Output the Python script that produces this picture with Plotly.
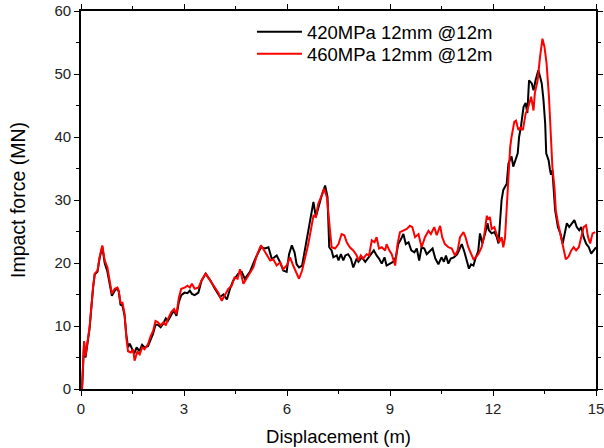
import plotly.graph_objects as go

# 420MPa 12mm @12m (black)
x_420 = [0.03, 0.06, 0.09, 0.13, 0.18, 0.25, 0.35, 0.40, 0.48, 0.54, 0.62, 0.69, 0.77, 0.83, 0.90, 0.98,
         1.06, 1.10, 1.15, 1.21, 1.27, 1.32, 1.37, 1.42, 1.48, 1.55, 1.62, 1.70, 1.78, 1.85, 1.95, 2.03,
         2.10, 2.17, 2.24, 2.32, 2.40, 2.47, 2.53, 2.63, 2.71, 2.78, 2.85, 2.92, 3.02, 3.10, 3.17, 3.23,
         3.31, 3.42, 3.51, 3.63, 3.77, 3.90, 4.05, 4.15, 4.25, 4.34, 4.43, 4.58, 4.68, 4.77, 4.92, 5.07,
         5.24, 5.36, 5.46, 5.56, 5.70, 5.80, 5.89, 5.99, 6.06, 6.14, 6.22, 6.28, 6.35, 6.44, 6.52, 6.62,
         6.72, 6.77, 6.84, 6.91, 7.01, 7.11, 7.18, 7.23, 7.30, 7.35, 7.45, 7.50, 7.57, 7.64, 7.70, 7.78,
         7.86, 7.93, 8.03, 8.08, 8.18, 8.28, 8.37, 8.47, 8.53, 8.61, 8.68, 8.76, 8.84, 8.90, 9.00, 9.10,
         9.17, 9.24, 9.32, 9.39, 9.46, 9.54, 9.62, 9.71, 9.78, 9.85, 9.92, 10.00, 10.07, 10.17, 10.24,
         10.32, 10.41, 10.50, 10.57, 10.63, 10.70, 10.77, 10.86, 10.96, 11.09, 11.17, 11.23, 11.30, 11.36,
         11.43, 11.50, 11.57, 11.62, 11.69, 11.77, 11.84, 11.88, 11.96, 12.04, 12.11, 12.16, 12.20, 12.25,
         12.30, 12.35, 12.40, 12.45, 12.54, 12.59, 12.66, 12.72, 12.76, 12.81, 12.89, 12.95, 13.00, 13.05,
         13.13, 13.18, 13.24, 13.32, 13.37, 13.42, 13.47, 13.52, 13.55, 13.62, 13.66, 13.69, 13.73, 13.76,
         13.81, 13.89, 13.96, 14.03, 14.09, 14.15, 14.22, 14.30, 14.37, 14.44, 14.51, 14.57, 14.64, 14.71,
         14.79, 14.86, 14.93, 15.00]
y_420 = [0.0, 3.0, 7.4, 5.0, 7.0, 9.6, 16.0, 18.2, 18.6, 20.7, 22.6, 20.0, 18.6, 16.6, 14.8, 15.6,
         16.0, 15.4, 13.4, 13.2, 11.6, 8.6, 6.6, 7.2, 6.4, 5.6, 6.6, 6.0, 7.0, 6.6, 6.8, 7.9,
         8.8, 10.2, 10.2, 9.8, 10.4, 11.2, 10.8, 11.8, 12.4, 11.6, 13.8, 14.9, 15.3, 15.2, 15.6, 15.1,
         14.9, 15.3, 17.2, 18.3, 17.2, 15.9, 14.6, 15.0, 14.2, 15.9, 17.2, 18.3, 18.6, 17.5, 18.6, 20.6,
         22.5, 22.3, 22.5, 20.6, 21.2, 20.1, 18.8, 18.6, 21.4, 22.8, 21.7, 19.8, 19.3, 19.6, 22.0, 25.1,
         27.8, 29.7, 27.3, 28.9, 30.7, 32.3, 30.5, 22.5, 22.0, 20.9, 21.2, 20.4, 21.4, 20.4, 21.2, 21.4,
         20.7, 19.3, 20.7, 20.2, 20.9, 20.2, 20.9, 21.7, 22.0, 21.2, 20.7, 19.9, 20.9, 19.6, 19.9, 20.2,
         20.9, 23.0, 23.8, 24.6, 23.0, 23.3, 22.0, 21.7, 22.3, 20.4, 22.5, 22.3, 21.4, 22.0, 22.3,
         20.7, 19.8, 20.9, 20.2, 21.2, 19.9, 20.7, 20.9, 21.4, 23.0, 21.7, 20.4, 19.1, 19.8,
         19.6, 20.9, 21.9, 24.7, 23.1, 24.7, 26.3, 25.2, 24.7, 24.9, 24.1, 23.1, 26.3, 30.0,
         31.6, 32.1, 32.6, 35.8, 36.9, 35.3, 36.3, 37.4, 40.0, 41.5, 44.8, 45.4, 43.8, 49.0,
         48.5, 47.4, 49.0, 50.6, 49.6, 48.5, 45.9, 42.1, 37.4, 36.3, 34.8, 34.0, 34.7, 31.6,
         28.4, 25.7, 24.7, 23.1, 24.7, 26.3, 25.7, 26.3, 26.8, 25.7, 25.2, 25.7, 24.1, 23.1,
         22.5, 21.5, 22.0, 22.5]

# 460MPa 12mm @12m (red)
x_460 = [0.03, 0.06, 0.09, 0.13, 0.18, 0.25, 0.35, 0.40, 0.48, 0.54, 0.62, 0.69, 0.77, 0.83, 0.90, 0.98,
         1.06, 1.10, 1.15, 1.21, 1.27, 1.32, 1.37, 1.45, 1.52, 1.56, 1.64, 1.71, 1.78, 1.85, 1.95, 2.03,
         2.10, 2.17, 2.24, 2.32, 2.40, 2.47, 2.53, 2.63, 2.71, 2.78, 2.85, 2.92, 3.02, 3.10, 3.17, 3.23,
         3.31, 3.42, 3.51, 3.63, 3.71, 3.81, 3.90, 4.00, 4.10, 4.20, 4.29, 4.39, 4.47, 4.56, 4.63, 4.73,
         4.82, 4.92, 5.02, 5.12, 5.24, 5.30, 5.41, 5.51, 5.60, 5.70, 5.80, 5.89, 5.99, 6.09, 6.18, 6.28,
         6.35, 6.44, 6.52, 6.62, 6.70, 6.77, 6.84, 6.91, 7.01, 7.08, 7.16, 7.20, 7.25, 7.30, 7.40, 7.50,
         7.59, 7.67, 7.74, 7.83, 7.93, 8.03, 8.08, 8.15, 8.22, 8.32, 8.39, 8.47, 8.55, 8.61, 8.68, 8.76,
         8.86, 8.90, 8.98, 9.05, 9.15, 9.22, 9.29, 9.38, 9.49, 9.58, 9.65, 9.73, 9.83, 9.92, 10.02, 10.12,
         10.19, 10.29, 10.36, 10.46, 10.52, 10.60, 10.70, 10.80, 10.89, 10.97, 11.04, 11.14, 11.20, 11.28,
         11.36, 11.43, 11.50, 11.57, 11.67, 11.75, 11.82, 11.86, 11.91, 11.96, 12.04, 12.11, 12.18, 12.25,
         12.30, 12.35, 12.40, 12.45, 12.50, 12.54, 12.62, 12.67, 12.74, 12.80, 12.87, 12.95, 13.03, 13.11,
         13.18, 13.22, 13.30, 13.37, 13.44, 13.50, 13.56, 13.63, 13.69, 13.73, 13.79, 13.83, 13.90, 13.98,
         14.05, 14.12, 14.20, 14.28, 14.35, 14.42, 14.50, 14.57, 14.64, 14.71, 14.77, 14.83, 14.90, 14.98]
y_460 = [0.0, 3.0, 7.6, 5.2, 7.2, 9.8, 16.1, 18.3, 18.8, 20.9, 22.8, 20.4, 19.3, 17.2, 15.1, 15.9,
         16.1, 15.6, 13.7, 13.7, 11.9, 8.2, 6.0, 5.8, 6.3, 4.5, 5.9, 5.5, 6.6, 6.3, 7.1, 8.4,
         9.2, 10.8, 10.6, 10.1, 10.6, 10.1, 11.1, 12.2, 12.7, 11.9, 14.5, 15.9, 16.1, 16.4, 16.1, 16.7,
         15.9, 16.1, 17.2, 18.3, 17.7, 16.9, 16.1, 15.3, 14.0, 15.0, 15.9, 16.4, 17.7, 17.5, 19.0, 16.7,
         17.5, 18.3, 19.3, 21.2, 22.8, 22.3, 21.4, 20.4, 20.6, 19.6, 20.1, 19.0, 19.6, 20.9, 19.6, 18.3,
         17.5, 18.8, 20.6, 23.0, 25.4, 27.5, 27.3, 29.4, 30.7, 31.8, 30.5, 28.3, 24.6, 22.5, 22.3, 23.0,
         24.6, 24.4, 23.3, 22.5, 22.0, 21.2, 20.4, 21.2, 20.7, 21.4, 21.2, 23.6, 23.3, 24.1, 22.3, 22.5,
         22.0, 23.0, 22.0, 21.4, 19.6, 23.0, 24.9, 25.1, 25.4, 25.9, 25.7, 24.1, 24.6, 22.5, 24.1, 25.1,
         24.6, 25.7, 24.4, 25.9, 24.1, 23.0, 22.5, 22.3, 21.2, 22.0, 24.1, 24.9, 24.1, 22.5,
         21.4, 20.6, 20.9, 21.4, 22.5, 24.6, 27.5, 26.9, 27.3, 25.4, 25.7, 24.6, 23.3, 24.1,
         22.5, 24.0, 29.4, 34.7, 38.4, 40.0, 42.4, 42.6, 41.1, 41.5, 41.1, 43.7, 44.8, 46.4,
         44.2, 47.0, 49.0, 52.7, 55.6, 54.3, 51.7, 46.4, 40.5, 35.2, 32.0, 28.3, 26.2, 24.1,
         22.0, 20.6, 21.0, 22.0, 22.5, 22.0, 22.5, 24.1, 25.7, 26.0, 24.1, 23.1, 24.7, 24.9]

series_names = ["420MPa 12mm @12m", "460MPa 12mm @12m"]
x_ticks = [0, 3, 6, 9, 12, 15]
y_ticks = [0, 10, 20, 30, 40, 50, 60]

font_family = "Liberation Sans, Arial, sans-serif"

fig = go.Figure()
fig.add_trace(go.Scatter(x=x_420, y=y_420, mode="lines", name=series_names[0],
                         line=dict(color="#000000", width=2), legend="legend"))
fig.add_trace(go.Scatter(x=x_460, y=y_460, mode="lines", name=series_names[1],
                         line=dict(color="#FF0000", width=2), legend="legend2"))

axis_common = dict(
    showline=True, linecolor="#000000", linewidth=1.6, mirror="allticks",
    ticks="outside", ticklen=5, tickwidth=1.4, tickcolor="#000000",
    showgrid=False, zeroline=False, ticklabeloverflow="allow",
    tickfont=dict(family=font_family, size=15, color="#222222"),
)

fig.update_xaxes(range=[0, 15], tickvals=x_ticks,
                 minor=dict(ticks="outside", ticklen=3, tickwidth=1.2, dtick=1.5, tick0=0, tickcolor="#000000"),
                 title=dict(text="Displacement (m)", font=dict(family=font_family, size=18.5, color="#000000"), standoff=14),
                 **axis_common)
fig.update_yaxes(range=[0, 60], tickvals=y_ticks,
                 minor=dict(ticks="outside", ticklen=3, tickwidth=1.2, dtick=5, tick0=0, tickcolor="#000000"),
                 title=dict(text="Impact force (MN)", font=dict(family=font_family, size=19.5, color="#000000"), standoff=24),
                 **axis_common)

legend_common = dict(xanchor="left", yanchor="top", bgcolor="rgba(0,0,0,0)", borderwidth=0,
                     font=dict(family=font_family, size=18.5, color="#000000"), itemwidth=45)

fig.update_layout(
    width=604, height=448,
    margin=dict(l=81, r=8, t=11, b=59, autoexpand=False),
    paper_bgcolor="#FFFFFF", plot_bgcolor="#FFFFFF",
    showlegend=True,
    legend=dict(x=0.332, y=0.994, **legend_common),
    legend2=dict(x=0.332, y=0.936, **legend_common),
)

fig.write_html("out.html", post_script="document.body.style.margin='0px';",
               config={"displayModeBar": False})
